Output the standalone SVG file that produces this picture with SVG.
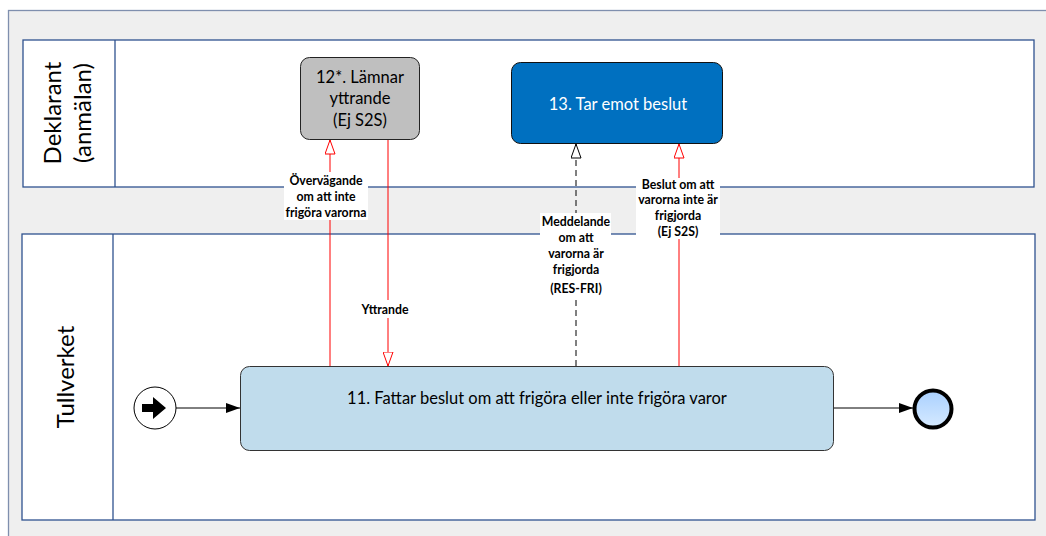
<svg xmlns="http://www.w3.org/2000/svg" width="1046" height="536" viewBox="0 0 1046 536">
<defs>
<style>
.lane{fill:#fff;stroke:#2f528f;stroke-width:1.3}
.hdr{font-family:Lato,"Liberation Sans",sans-serif;font-size:24px;fill:#000}
.nt{font-family:Lato,"Liberation Sans",sans-serif;font-size:16.5px;text-anchor:middle}
.lbl{font-family:Lato,"Liberation Sans",sans-serif;font-size:12.3px;font-weight:bold;text-anchor:middle;fill:#000}
.lb{fill:#fff}
.red{stroke:#ff0000;stroke-width:1;fill:none}
.blk{stroke:#000;stroke-width:1;fill:none}
</style>
<marker id="oR" viewBox="0 0 15 11" refX="14.5" refY="5.5" markerWidth="15" markerHeight="11" markerUnits="userSpaceOnUse" orient="auto"><path d="M0.5,0.5 L14.5,5.5 L0.5,10.5 Z" fill="#fff" stroke="#ff0000" stroke-width="1"/></marker>
<marker id="oK" viewBox="0 0 15 11" refX="14.5" refY="5.5" markerWidth="15" markerHeight="11" markerUnits="userSpaceOnUse" orient="auto"><path d="M0.5,0.5 L14.5,5.5 L0.5,10.5 Z" fill="#fff" stroke="#000" stroke-width="1"/></marker>
<marker id="fK" viewBox="0 0 14 10" refX="14" refY="5" markerWidth="14" markerHeight="10" markerUnits="userSpaceOnUse" orient="auto"><path d="M0,0 L14,5 L0,10 Z" fill="#000"/></marker>
<linearGradient id="endG" x1="0" y1="0" x2="0" y2="1"><stop offset="0" stop-color="#a9d0ff"/><stop offset="1" stop-color="#d6eaff"/></linearGradient>
</defs>
<rect x="0" y="0" width="1046" height="536" fill="#fff"/>
<rect x="8.5" y="10.5" width="1050" height="540" fill="#efefef" stroke="#7f8fae" stroke-width="1.3"/>
<g id="lane-deklarant">
<rect class="lane" x="23" y="40" width="1011" height="147"/>
<line x1="115" y1="40" x2="115" y2="187" stroke="#2f528f" stroke-width="1.3"/>
<text class="hdr" transform="translate(61,113) rotate(-90)" text-anchor="middle">Deklarant</text>
<text class="hdr" transform="translate(91,113) rotate(-90)" text-anchor="middle">(anmälan)</text>
</g>
<g id="lane-tullverket">
<rect class="lane" x="22" y="234" width="1013" height="286"/>
<line x1="113" y1="234" x2="113" y2="520" stroke="#2f528f" stroke-width="1.3"/>
<text class="hdr" transform="translate(74,377) rotate(-90)" text-anchor="middle">Tullverket</text>
</g>
<g id="connectors">
<line class="red" x1="330" y1="366" x2="330" y2="140" marker-end="url(#oR)"/>
<line class="red" x1="388" y1="139" x2="388" y2="366" marker-end="url(#oR)"/>
<line class="blk" x1="576" y1="366" x2="576" y2="144" stroke="#333" stroke-dasharray="6,4" marker-end="url(#oK)"/>
<line class="red" x1="679" y1="366" x2="679" y2="144" marker-end="url(#oR)"/>
<line class="blk" x1="176" y1="408" x2="240" y2="408" marker-end="url(#fK)"/>
<line x1="834" y1="408" x2="913" y2="408" stroke="#000" stroke-width="1" marker-end="url(#fK)"/>
<rect class="lb" x="284" y="172" width="84" height="48"/>
<text class="lbl" x="326" y="185">Övervägande</text>
<text class="lbl" x="326" y="201">om att inte</text>
<text class="lbl" x="326" y="217">frigöra varorna</text>
<rect class="lb" x="356" y="300" width="64" height="18" fill="#fff"/>
<text class="lbl" x="385" y="314">Yttrande</text>
<rect class="lb" x="540" y="213" width="71" height="84"/>
<text class="lbl" x="576" y="226">Meddelande</text>
<text class="lbl" x="576" y="242">om att</text>
<text class="lbl" x="576" y="258">varorna är</text>
<text class="lbl" x="576" y="274">frigjorda</text>
<text class="lbl" x="576" y="293">(RES-FRI)</text>
<rect class="lb" x="636" y="178" width="84" height="61"/>
<text class="lbl" x="678" y="189">Beslut om att</text>
<text class="lbl" x="678" y="204">varorna inte är</text>
<text class="lbl" x="678" y="220">frigjorda</text>
<text class="lbl" x="678" y="236">(Ej S2S)</text>
</g>
<g id="node-12">
<rect x="300.5" y="57.5" width="119" height="82" rx="9" fill="#bfbfbf" stroke="#222" stroke-width="1"/>
<text class="nt" x="360" y="83">12*. Lämnar</text>
<text class="nt" x="360" y="104">yttrande</text>
<text class="nt" x="360" y="126">(Ej S2S)</text>
</g>
<g id="node-13">
<rect x="511.5" y="62.5" width="211" height="81" rx="9" fill="#0070c0" stroke="#111" stroke-width="1"/>
<text class="nt" x="618" y="110" fill="#fff" font-size="17.5">13. Tar emot beslut</text>
</g>
<g id="node-11">
<rect x="240.5" y="366.5" width="593" height="84" rx="9" fill="#c0dcec" stroke="#333" stroke-width="1"/>
<text class="nt" x="537" y="404" font-size="17.5">11. Fattar beslut om att frigöra eller inte frigöra varor</text>
</g>
<g id="start">
<circle cx="155" cy="408" r="21" fill="#fff" stroke="#000" stroke-width="1"/>
<path d="M142,404 L153,404 L153,397 L166,408 L153,419 L153,412 L142,412 Z" fill="#000"/>
</g>
<g id="end">
<circle cx="933" cy="409" r="18.5" fill="url(#endG)" stroke="#000" stroke-width="4"/>
</g>
</svg>
